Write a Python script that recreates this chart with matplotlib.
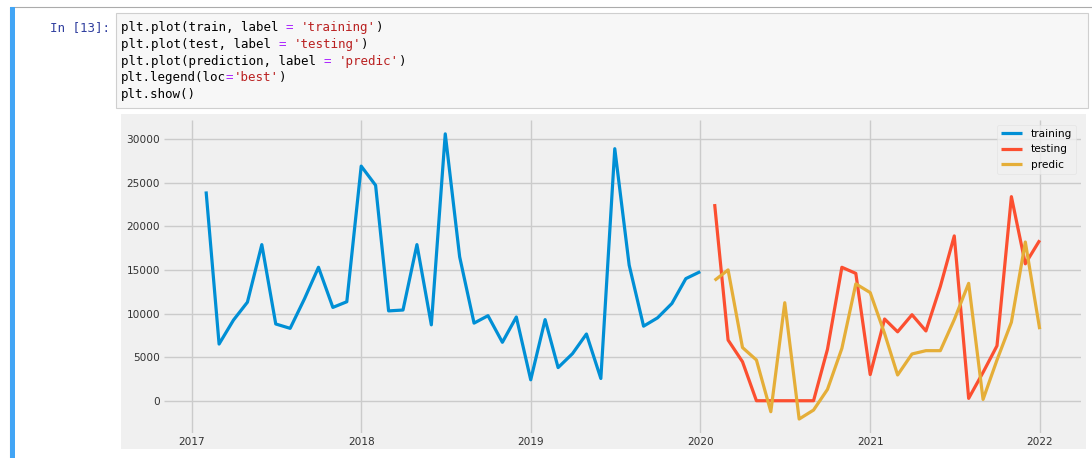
import numpy as np
import pandas as pd
import matplotlib
matplotlib.use("Agg")
import matplotlib.pyplot as plt
import matplotlib.dates as mdates
from matplotlib.patches import Rectangle

# ---------------- data ----------------
train_start = "2017-02-01"
test_start = "2020-02-01"
train_values = [24000, 6500, 9250, 11300, 17900, 8800, 8300, 11700, 15300, 10700, 11350,
                26900, 24700, 10300, 10400, 17900, 8700, 30600, 16500, 8900, 9750, 6700, 9600,
                2400, 9300, 3800, 5400, 7650, 2550, 28900, 15550, 8550, 9500, 11150, 14000, 14800]
test_values = [22550, 6960, 4470, 0, 0, 0, 0, 0, 5900, 15300, 14600,
               3000, 9370, 7900, 9860, 8000, 13100, 18900, 270, 3250, 6300, 23400, 15700, 18400]
pred_values = [13800, 15000, 6100, 4670, -1260, 11240, -2100, -1070, 1300, 6000, 13400,
               12400, 7700, 2950, 5360, 5740, 5740, 9300, 13460, 150, 4670, 9000, 18200, 8200]
series_labels = ["training", "testing", "predic"]

code_lines = [
    [("plt.plot(train, label ", "#000000"), ("=", "#AA22FF"), (" ", "#000000"),
     ("'training'", "#BA2121"), (")", "#000000")],
    [("plt.plot(test, label ", "#000000"), ("=", "#AA22FF"), (" ", "#000000"),
     ("'testing'", "#BA2121"), (")", "#000000")],
    [("plt.plot(prediction, label ", "#000000"), ("=", "#AA22FF"), (" ", "#000000"),
     ("'predic'", "#BA2121"), (")", "#000000")],
    [("plt.legend(loc", "#000000"), ("=", "#AA22FF"), ("'best'", "#BA2121"), (")", "#000000")],
    [("plt.show()", "#000000")],
]
prompt_text = "In [13]:"

train = pd.Series(train_values, index=pd.date_range(train_start, periods=len(train_values), freq="MS"))
test = pd.Series(test_values, index=pd.date_range(test_start, periods=len(test_values), freq="MS"))
prediction = pd.Series(pred_values, index=test.index)

plt.style.use("fivethirtyeight")
plt.rcParams["font.family"] = ["DejaVu Sans"]

W, H = 1092, 458
fig = plt.figure(figsize=(W / 100, H / 100), dpi=100, facecolor="white")

# ---------------- notebook chrome ----------------
bg = fig.add_axes([0, 0, 1, 1], zorder=0)
bg.set_xlim(0, W)
bg.set_ylim(H, 0)
bg.axis("off")
bg.set_facecolor("white")
bg.add_patch(Rectangle((0, 0), W, H, facecolor="white", edgecolor="none"))
# cell border
bg.add_patch(Rectangle((10, 7), W + 10, H + 10, facecolor="white", edgecolor="#ababab", lw=0.8))
# blue selection bar
bg.add_patch(Rectangle((10, 7), 5, H, facecolor="#42A5F5", edgecolor="none"))
# input area
bg.add_patch(Rectangle((116, 13), 972, 95, facecolor="#f7f7f7", edgecolor="#cfcfcf", lw=0.8))
# figure output background
bg.add_patch(Rectangle((121, 114), 965, 335, facecolor="#f0f0f0", edgecolor="none"))

mono = "DejaVu Sans Mono"
cw = 7.5
fs_code = cw / 0.602 * 72 / 100
bg.text(109.5, 31, prompt_text, ha="right", va="baseline", fontsize=fs_code,
        family=mono, color="#303F9F")
for i, segs in enumerate(code_lines):
    col = 0
    y = 31 + 16.8 * i
    for s, c in segs:
        bg.text(121 + col * cw, y, s, ha="left", va="baseline", fontsize=fs_code,
                family=mono, color=c)
        col += len(s)

# ---------------- chart ----------------
left, right, top, bottom = 164.4, 1081.4, 119.6, 433.3
ax = fig.add_axes([left / W, (H - bottom) / H, (right - left) / W, (bottom - top) / H], zorder=2)
ax.set_facecolor("#f0f0f0")
for sp in ax.spines.values():
    sp.set_visible(False)

lw = 2.3
ax.plot(train.index, train.values, label=series_labels[0], lw=lw)
ax.plot(test.index, test.values, label=series_labels[1], lw=lw)
ax.plot(prediction.index, prediction.values, label=series_labels[2], lw=lw)

ax.xaxis.set_major_locator(mdates.YearLocator())
ax.xaxis.set_major_formatter(mdates.DateFormatter("%Y"))
ax.set_yticks([0, 5000, 10000, 15000, 20000, 25000, 30000])
ax.tick_params(axis="both", labelsize=7.6, colors="#333333", pad=3)
ax.grid(True, color="#cbcbcb", lw=1.0)

leg = ax.legend(loc="best", fontsize=7.6)
leg.get_frame().set_facecolor("#f0f0f0")
leg.get_frame().set_edgecolor("#e0e0e0")

fig.savefig("out.png", dpi=100, facecolor="white")
